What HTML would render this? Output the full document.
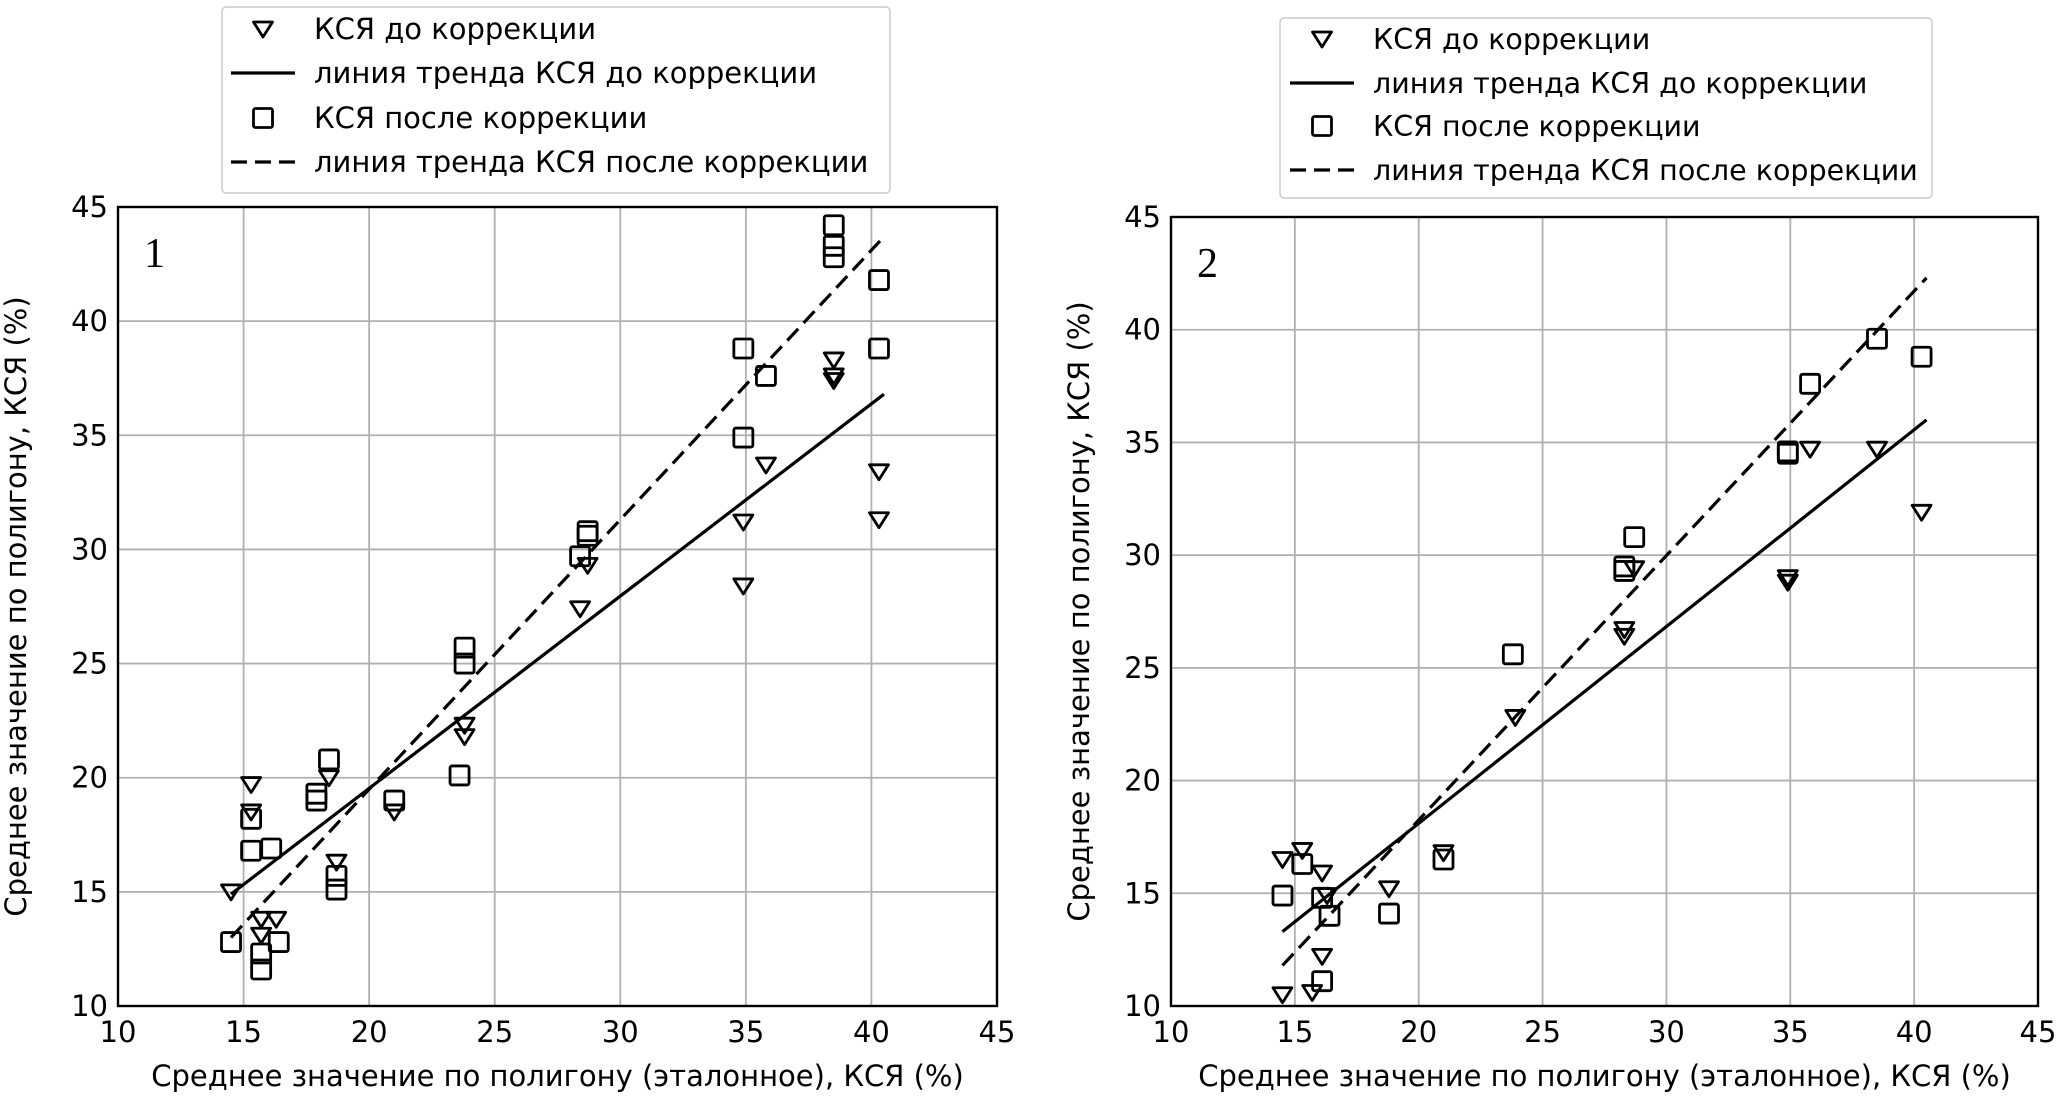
<!DOCTYPE html>
<html><head><meta charset="utf-8"><style>
body{margin:0;background:#fff;}
svg{display:block;font-family:"DejaVu Sans","Liberation Sans",sans-serif;}
</style></head><body>
<svg id="svg" width="2067" height="1113" viewBox="0 0 2067 1113" xmlns="http://www.w3.org/2000/svg"></svg>
<script>
const xTicks=[10,15,20,25,30,35,40,45];
const yTicks=[10,15,20,25,30,35,40,45];
const c1TriX=[14.5,15.3,15.3,15.7,15.7,16.3,18.4,18.7,21,23.8,23.8,28.4,28.7,34.9,34.9,35.8,38.5,38.5,38.5,40.3,40.3];
const c1TriY=[15.0,19.7,18.5,13.8,13.1,13.8,20.0,16.3,18.5,22.3,21.8,27.4,29.3,31.2,28.4,33.7,38.3,37.6,37.4,33.4,31.3];
const c1SqX=[14.5,15.3,15.3,16.1,15.7,15.7,16.4,17.9,17.9,18.4,18.7,18.7,21,23.6,23.8,23.8,28.4,28.7,28.7,34.9,34.9,35.8,38.5,38.5,38.5,40.3,40.3];
const c1SqY=[12.8,18.2,16.8,16.9,12.3,11.6,12.8,19.3,19.0,20.8,15.7,15.1,19.0,20.1,25.7,25.0,29.7,30.8,30.6,38.8,34.9,37.6,44.2,43.3,42.8,41.8,38.8];
const c1TrendX=[14.5,40.5];
const c1TrendBefore=[14.9,36.8];
const c1TrendAfter=[13.0,43.7];
const c2TriX=[14.5,15.3,16.1,16.3,16.1,14.5,15.7,18.8,21,23.9,28.3,28.3,28.7,34.9,34.9,35.8,38.5,40.3];
const c2TriY=[16.5,16.9,15.9,14.9,12.2,10.5,10.6,15.2,16.8,22.8,26.7,26.4,29.4,29.0,28.8,34.7,34.7,31.9];
const c2SqX=[14.5,15.3,16.1,16.4,16.1,18.8,21,23.8,28.3,28.3,28.7,34.9,34.9,35.8,38.5,40.3];
const c2SqY=[14.9,16.3,14.8,14.0,11.1,14.1,16.5,25.6,29.5,29.3,30.8,34.6,34.5,37.6,39.6,38.8];
const c2TrendX=[14.5,40.5];
const c2TrendBefore=[13.3,36.0];
const c2TrendAfter=[11.8,42.3];
const legendLabels=["КСЯ до коррекции","линия тренда КСЯ до коррекции","КСЯ после коррекции","линия тренда КСЯ после коррекции"];
const xTitle="Среднее значение по полигону (эталонное), КСЯ (%)";
const yTitle="Среднее значение по полигону, КСЯ (%)";

const NS="http://www.w3.org/2000/svg";
const svg=document.getElementById('svg');
function mk(tag,attrs,parent){const e=document.createElementNS(NS,tag);for(const k in attrs)e.setAttribute(k,attrs[k]);(parent||svg).appendChild(e);return e;}
function tri(g,cx,cy){return mk('path',{d:`M${cx-9.5},${cy-7} L${cx+9.5},${cy-7} L${cx},${cy+8} Z`,fill:'none',stroke:'#000','stroke-width':2.8,'stroke-linejoin':'round'},g);}
function sq(g,cx,cy){return mk('rect',{x:cx-9.5,y:cy-9.5,width:19,height:19,rx:2,fill:'none',stroke:'#000','stroke-width':2.8},g);}

function chart(id,L,R,T,B,triX,triY,sqX,sqY,tX,tB,tA,label,leg,yTitleX){
  const g=mk('g',{});
  
  
  const sx=v=>L+(v-10)/35*(R-L), sy=v=>B-(v-10)/35*(B-T);
  xTicks.forEach(v=>{const l=mk('line',{x1:sx(v),x2:sx(v),y1:T,y2:B,stroke:'#b0b0b0','stroke-width':1.8},g);
    
    const t=mk('text',{x:sx(v),y:B+36,'text-anchor':'middle','font-size':29},g);t.textContent=v;
    });
  yTicks.forEach(v=>{const l=mk('line',{x1:L,x2:R,y1:sy(v),y2:sy(v),stroke:'#b0b0b0','stroke-width':1.8},g);
    
    const t=mk('text',{x:L-10,y:sy(v)+10,'text-anchor':'end','font-size':29},g);t.textContent=v;
    });
  const fr=mk('rect',{x:L,y:T,width:R-L,height:B-T,fill:'none',stroke:'#000','stroke-width':2.4},g);
  
  const lb=mk('line',{x1:sx(tX[0]),y1:sy(tB[0]),x2:sx(tX[1]),y2:sy(tB[1]),stroke:'#000','stroke-width':3.2},g);
  
  const la=mk('line',{x1:sx(tX[0]),y1:sy(tA[0]),x2:sx(tX[1]),y2:sy(tA[1]),stroke:'#000','stroke-width':3.2,'stroke-dasharray':'16 8'},g);
  
  triX.forEach((v,i)=>{const p=tri(g,sx(v),sy(triY[i]));});
  sqX.forEach((v,i)=>{const p=sq(g,sx(v),sy(sqY[i]));});
  const pl=mk('text',{x:L+26,y:T+60,'font-size':42,'font-family':'Liberation Serif, serif'},g);pl.textContent=label;
  
  const xt=mk('text',{x:(L+R)/2,y:B+80,'text-anchor':'middle','font-size':29},g);xt.textContent=xTitle;
  
  const yt=mk('text',{x:yTitleX,y:(T+B)/2,'text-anchor':'middle','font-size':29,transform:`rotate(-90 ${yTitleX} ${(T+B)/2})`},g);yt.textContent=yTitle;
  
  const lg=mk('g',{},g);
  
  mk('rect',{x:leg.x,y:leg.y,width:leg.w,height:leg.h,rx:4,fill:'#fff',stroke:'#ccc','stroke-width':1.5},lg);
  leg.rows.forEach((ry,i)=>{
    const mx=leg.mx;
    if(i===0)tri(lg,mx,ry);
    if(i===1)mk('line',{x1:mx-32,x2:mx+32,y1:ry,y2:ry,stroke:'#000','stroke-width':3.2},lg);
    if(i===2)sq(lg,mx,ry);
    if(i===3)mk('line',{x1:mx-32,x2:mx+32,y1:ry,y2:ry,stroke:'#000','stroke-width':3.2,'stroke-dasharray':'16 8'},lg);
    const t=mk('text',{x:leg.tx,y:ry+10,'font-size':leg.fs},lg);t.textContent=legendLabels[i];
    
  });
}
chart('1',118,997,207,1006,c1TriX,c1TriY,c1SqX,c1SqY,c1TrendX,c1TrendBefore,c1TrendAfter,'1',
  {x:222,y:7,w:668,h:186,mx:263,tx:314,fs:29,rows:[29,73,118,162]},26);
chart('2',1171,2038,217,1006,c2TriX,c2TriY,c2SqX,c2SqY,c2TrendX,c2TrendBefore,c2TrendAfter,'2',
  {x:1280,y:18,w:652,h:180,mx:1322,tx:1373,fs:28.5,rows:[39,83,126,170]},1089);
</script>
</body></html>
